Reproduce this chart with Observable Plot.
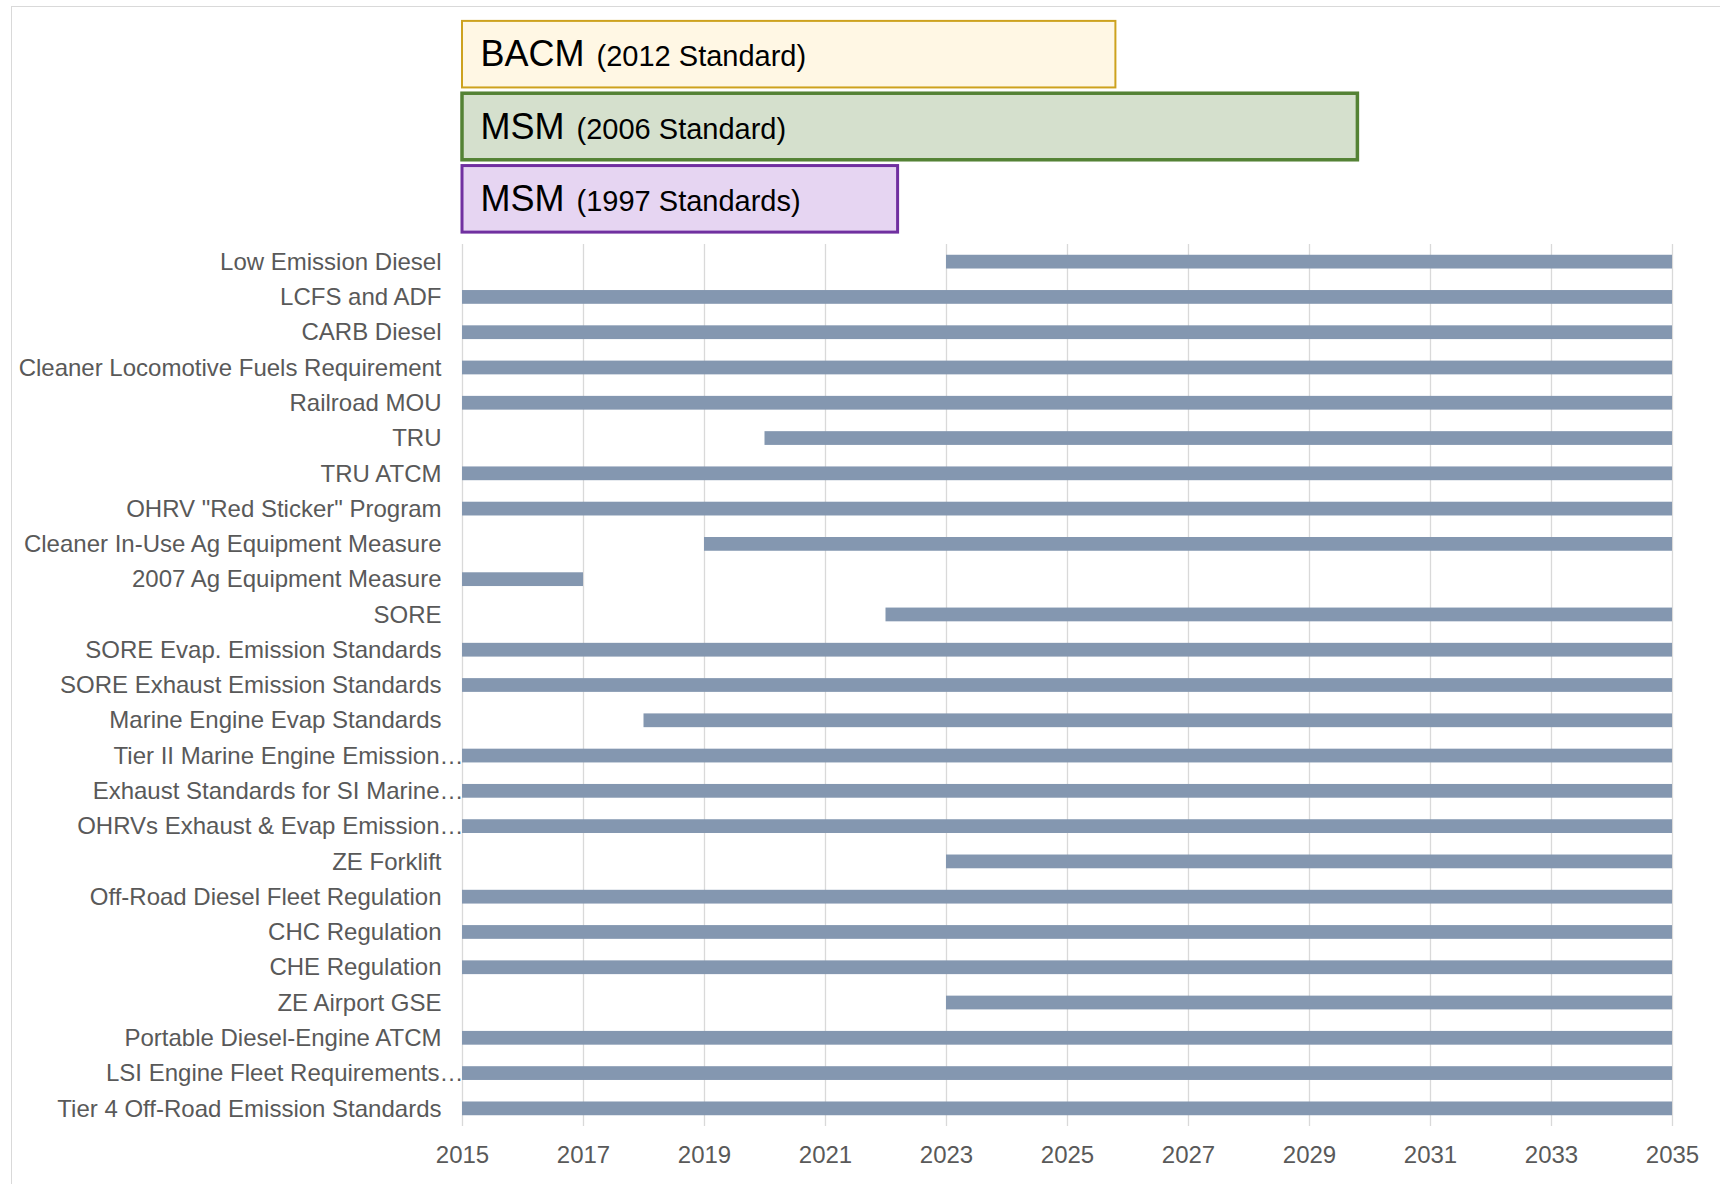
<!DOCTYPE html>
<html>
<head>
<meta charset="utf-8">
<script src="https://cdn.jsdelivr.net/npm/d3@7"></script>
<script src="https://cdn.jsdelivr.net/npm/@observablehq/plot@0.6"></script>
<style>
  html, body { margin: 0; padding: 0; background: #fff; }
  #wrap { position: relative; width: 1720px; height: 1184px; overflow: hidden; }
  #frame { position: absolute; left: 11px; top: 6px; width: 1800px; height: 1300px;
           border-left: 1.5px solid #d9d9d9; border-top: 1.5px solid #d9d9d9; pointer-events: none; }
  #wrap svg { display: block; position: relative; }
</style>
</head>
<body>
<div id="wrap"><div id="frame"></div></div>
<script>
// ---- Data ----
const boxNames = ["BACM", "MSM", "MSM "];
const boxSubs = ["(2012 Standard)", "(2006 Standard)", "(1997 Standards)"];
const boxEnds = [2025.8, 2029.8, 2022.2];
const boxFills = ["#FFF7E4", "#D5E0CD", "#E6D5F2"];
const boxStrokes = ["#CDA21F", "#548235", "#7030A0"];
const boxStrokeWidths = [2, 3.5, 3];

const names = [
  "Low Emission Diesel",
  "LCFS and ADF",
  "CARB Diesel",
  "Cleaner Locomotive Fuels Requirement",
  "Railroad MOU",
  "TRU",
  "TRU ATCM",
  "OHRV \"Red Sticker\" Program",
  "Cleaner In-Use Ag Equipment Measure",
  "2007 Ag Equipment Measure",
  "SORE",
  "SORE Evap. Emission Standards",
  "SORE Exhaust Emission Standards",
  "Marine Engine Evap Standards",
  "Tier II Marine Engine Emission…",
  "Exhaust Standards for SI Marine…",
  "OHRVs Exhaust & Evap Emission…",
  "ZE Forklift",
  "Off-Road Diesel Fleet Regulation",
  "CHC Regulation",
  "CHE Regulation",
  "ZE Airport GSE",
  "Portable Diesel-Engine ATCM",
  "LSI Engine Fleet Requirements…",
  "Tier 4 Off-Road Emission Standards"
];
const starts = [2023, 2015, 2015, 2015, 2015, 2020, 2015, 2015, 2019, 2015, 2022, 2015, 2015,
                2018, 2015, 2015, 2015, 2023, 2015, 2015, 2015, 2023, 2015, 2015, 2015];
const ends   = [2035, 2035, 2035, 2035, 2035, 2035, 2035, 2035, 2035, 2017, 2035, 2035, 2035,
                2035, 2035, 2035, 2035, 2035, 2035, 2035, 2035, 2035, 2035, 2035, 2035];
const yearTicks = [2015, 2017, 2019, 2021, 2023, 2025, 2027, 2029, 2031, 2033, 2035];

// ---- Tables built from arrays ----
const boxes = boxNames.map((n, i) => ({name: n, sub: boxSubs[i], start: 2015, end: boxEnds[i],
  fill: boxFills[i], stroke: boxStrokes[i], sw: boxStrokeWidths[i]}));
const rows = names.map((n, i) => ({name: n, start: starts[i], end: ends[i], trunc: n.endsWith("…")}));

const W = 1720, ML = 462, MR = 48;
const font = "'Liberation Sans', Arial, sans-serif";

// ---- Top: standards boxes ----
const topChart = Plot.plot({
  width: W, height: 244,
  marginLeft: ML, marginRight: MR, marginTop: 18, marginBottom: 9,
  style: {fontFamily: font, background: "transparent", overflow: "visible"},
  x: {domain: [2015, 2035], axis: null},
  y: {domain: boxNames, axis: null, paddingInner: 0.08, paddingOuter: 0.04, round: false},
  color: {type: "identity"},
  marks: [
    Plot.barX(boxes, {y: "name", x1: "start", x2: "end", fill: "fill", stroke: "stroke", strokeWidth: "sw"}),
    Plot.text(boxes, {y: "name", x: "start", text: d => d.name.trim(), textAnchor: "start", dx: 18,
      fontSize: 36, fill: "#000", lineAnchor: "middle"})
  ]
});
d3.select(topChart).selectAll('g[aria-label="text"] text').each(function(_, i) {
  d3.select(this).append("tspan").attr("font-size", 29).attr("dx", 4).text(" " + boxes[i].sub);
});

// ---- Bottom: timeline ----
const bottomChart = Plot.plot({
  width: W, height: 940,
  marginLeft: ML, marginRight: MR, marginTop: 0, marginBottom: 58,
  style: {fontFamily: font, color: "#595959", background: "transparent", overflow: "visible"},
  x: {domain: [2015, 2035]},
  y: {domain: names, axis: null, paddingInner: 0.61, paddingOuter: 0.305, round: false},
  marks: [
    Plot.ruleX(yearTicks, {stroke: "#d9d9d9", strokeWidth: 1.3}),
    Plot.barX(rows, {y: "name", x1: "start", x2: "end", fill: "#8497B0"}),
    Plot.axisX({ticks: yearTicks, tickSize: 0, tickPadding: 19, fontSize: 24, tickFormat: d => String(d), label: null}),
    Plot.text(rows, {filter: d => !d.trunc, y: "name", text: "name", frameAnchor: "left", textAnchor: "end",
      dx: -21, fontSize: 24, fill: "#595959", lineAnchor: "middle"}),
    Plot.text(rows, {filter: d => d.trunc, y: "name", text: "name", frameAnchor: "left", textAnchor: "end",
      dx: 1, fontSize: 24, fill: "#595959", lineAnchor: "middle"})
  ]
});

const wrap = document.getElementById("wrap");
wrap.appendChild(topChart);
wrap.appendChild(bottomChart);
</script>
</body>
</html>
